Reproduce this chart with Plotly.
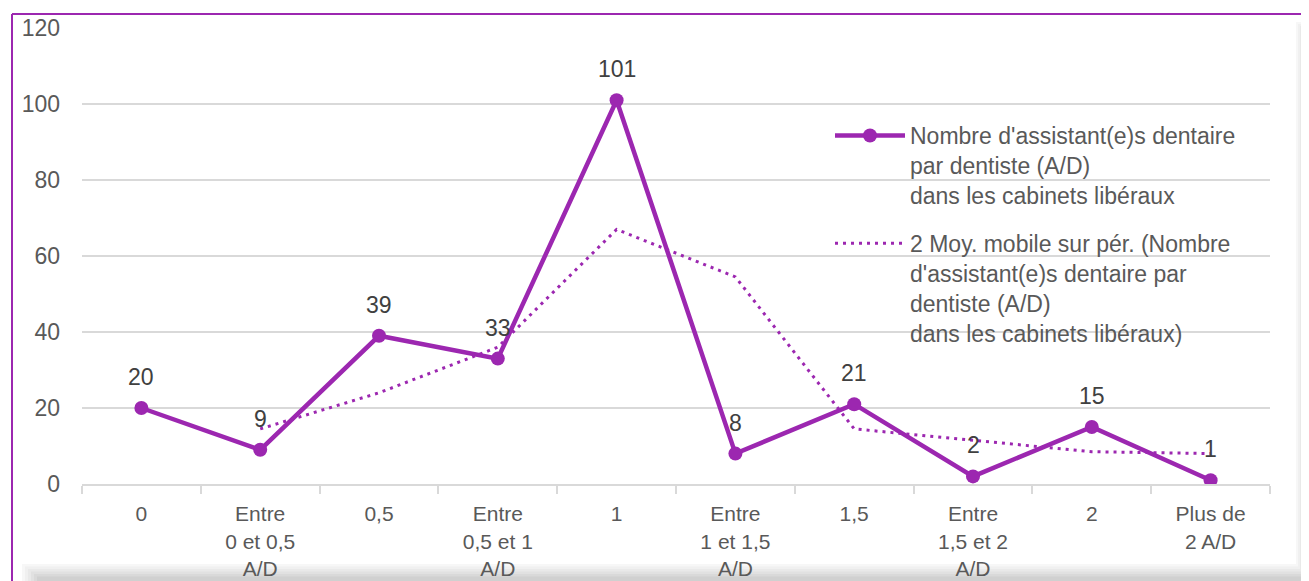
import plotly.graph_objects as go

# category labels on the x axis
categories = ["0", "Entre<br>0 et 0,5<br>A/D", "0,5", "Entre<br>0,5 et 1<br>A/D", "1",
              "Entre<br>1 et 1,5<br>A/D", "1,5", "Entre<br>1,5 et 2<br>A/D", "2", "Plus de<br>2 A/D"]

# number of practices per A/D ratio
counts = [20, 9, 39, 33, 101, 8, 21, 2, 15, 1]

# 2-period moving average
moving_avg = [None, 14.5, 24, 36, 67, 54.5, 14.5, 11.5, 8.5, 8]

y_ticks = [0, 20, 40, 60, 80, 100, 120]

PURPLE = "#9c27b0"
GREY_TEXT = "#595959"
GRID = "#d9d9d9"
FONT = "Liberation Sans, Arial, sans-serif"
FS = 23

# page has an 8px body margin, so the figure is 8px smaller than the window
W, H = 1301, 573
L, R, T, B = 74, 1262, 20, 476  # plot area in figure pixels


def px_x(p):
    return (p - L) / (R - L)


def px_y(p):
    return (B - p) / (B - T)


idx = list(range(len(categories)))

fig = go.Figure()

fig.add_trace(go.Scatter(
    x=idx, y=counts,
    mode="lines+markers",
    name="Nombre d'assistant(e)s dentaire<br>par dentiste (A/D)<br>dans les cabinets libéraux",
    legendgroup="counts",
    line=dict(color=PURPLE, width=4.5),
    marker=dict(color=PURPLE, size=14),
))

fig.add_trace(go.Scatter(
    x=idx, y=moving_avg,
    mode="lines",
    name="2 Moy. mobile sur pér. (Nombre<br>d'assistant(e)s dentaire par<br>dentiste (A/D)<br>dans les cabinets libéraux)",
    legendgroup="avg",
    line=dict(color=PURPLE, width=3, dash="3px,5px"),
    connectgaps=False,
))

# data labels above the points
for i, v in zip(idx, counts):
    fig.add_annotation(x=i, y=v, text=str(v), showarrow=False, yshift=31,
                       font=dict(size=FS, color="#404040", family=FONT))

# frame: purple border top/left, grey shadow right/bottom
shapes = []
shade = ["#f7f7f7", "#f0f0f0", "#e9e9e9", "#e1e1e1", "#d9d9d9", "#d0d0d0"]
for i, col in enumerate(shade):
    shapes.append(dict(type="rect", xref="paper", yref="paper",
                       x0=px_x(1288 + i * 2), x1=px_x(W), y0=px_y(14 + i * 2), y1=px_y(H),
                       line=dict(width=0), fillcolor=col, layer="below"))
    shapes.append(dict(type="rect", xref="paper", yref="paper",
                       x0=px_x(14 + i * 3), x1=px_x(W), y0=px_y(556 + i * 2.5), y1=px_y(H),
                       line=dict(width=0), fillcolor=col, layer="below"))
shapes += [
    dict(type="line", xref="paper", yref="paper", x0=px_x(4), x1=px_x(W),
         y0=px_y(6), y1=px_y(6), line=dict(color=PURPLE, width=2)),
    dict(type="line", xref="paper", yref="paper", x0=px_x(4), x1=px_x(4),
         y0=px_y(6), y1=px_y(H), line=dict(color=PURPLE, width=2)),
]

fig.update_layout(
    width=W, height=H,
    margin=dict(l=L, r=W - R, t=T, b=H - B),
    paper_bgcolor="white",
    plot_bgcolor="white",
    font=dict(family=FONT, size=FS, color=GREY_TEXT),
    showlegend=True,
    legend=dict(x=px_x(822), y=px_y(106), xanchor="left", yanchor="top",
                bgcolor="rgba(0,0,0,0)", font=dict(size=FS, color=GREY_TEXT),
                tracegroupgap=15, itemwidth=70, valign="top"),
    shapes=shapes,
    xaxis=dict(
        automargin=False,
        tickmode="array", tickvals=idx, ticktext=categories,
        showgrid=False, zeroline=False,
        showline=True, linecolor=GRID, linewidth=2,
        ticks="", tickfont=dict(size=21, color=GREY_TEXT),
        ticklabelstandoff=10,
        range=[-0.5, len(categories) - 0.5],
        minor=dict(tickmode="array", tickvals=[i - 0.5 for i in idx] + [len(idx) - 0.5],
                   ticks="outside", ticklen=8, tickcolor=GRID, tickwidth=2, showgrid=False),
    ),
    yaxis=dict(
        automargin=False,
        range=[0, 120], tickvals=y_ticks, showgrid=True, gridcolor=GRID, gridwidth=2,
        zeroline=False, showline=False, ticks="",
        ticklabelstandoff=21,
        tickfont=dict(size=FS, color=GREY_TEXT),
    ),
)

fig.write_html("out.html")
